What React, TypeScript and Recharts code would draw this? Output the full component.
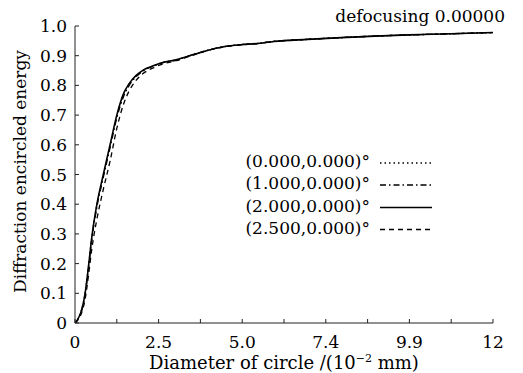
import React from 'react';
import { LineChart, Line, XAxis, YAxis, Legend } from 'recharts';

const X_VALUES = [0, 0.1, 0.2, 0.3, 0.4, 0.5, 0.65, 0.84, 1.04, 1.24, 1.45, 1.6, 1.8, 2.0, 2.3, 2.6, 3.0, 3.4, 3.9, 4.4, 4.9, 5.4, 5.9, 6.9, 7.9, 8.9, 9.9, 10.9, 12.4];
const FIELD_00 = [0, 0.017, 0.047, 0.1, 0.19, 0.29, 0.4, 0.5, 0.6, 0.695, 0.772, 0.803, 0.831, 0.849, 0.865, 0.877, 0.886, 0.9, 0.917, 0.93, 0.937, 0.941, 0.948, 0.955, 0.961, 0.966, 0.97, 0.973, 0.978];
const FIELD_10 = [0, 0.015, 0.043, 0.095, 0.185, 0.283, 0.39, 0.49, 0.59, 0.69, 0.765, 0.798, 0.828, 0.847, 0.864, 0.876, 0.885, 0.9, 0.917, 0.93, 0.937, 0.941, 0.948, 0.955, 0.961, 0.966, 0.97, 0.973, 0.978];
const FIELD_20 = [0, 0.016, 0.045, 0.1, 0.19, 0.29, 0.4, 0.5, 0.6, 0.7, 0.775, 0.805, 0.832, 0.85, 0.865, 0.877, 0.886, 0.9, 0.917, 0.93, 0.937, 0.941, 0.948, 0.955, 0.961, 0.966, 0.97, 0.973, 0.978];
const FIELD_25 = [0, 0.012, 0.035, 0.08, 0.16, 0.25, 0.35, 0.45, 0.545, 0.655, 0.74, 0.78, 0.815, 0.838, 0.858, 0.872, 0.883, 0.898, 0.916, 0.929, 0.936, 0.941, 0.948, 0.955, 0.961, 0.966, 0.97, 0.973, 0.978];

const SERIES_NAMES = ['(0.000,0.000)°', '(1.000,0.000)°', '(2.000,0.000)°', '(2.500,0.000)°'];
const SERIES_KEYS = ['f00', 'f10', 'f20', 'f25'];
const SERIES_DASH = ['1.5 3', '6 3 1.5 3', undefined, '5 4'];
const SERIES_WIDTH = [1.3, 1.3, 1.6, 1.3];

const X_TICKS = [0, 1.24, 2.48, 3.72, 4.96, 6.2, 7.44, 8.68, 9.92, 11.16, 12.4];
const X_TICK_LABELS = ['0', '', '2.5', '', '5.0', '', '7.4', '', '9.9', '', '12'];
const Y_TICKS = [0, 0.1, 0.2, 0.3, 0.4, 0.5, 0.6, 0.7, 0.8, 0.9, 1.0];
const Y_TICK_LABELS = ['0', '0.1', '0.2', '0.3', '0.4', '0.5', '0.6', '0.7', '0.8', '0.9', '1.0'];

const TITLE = 'defocusing 0.00000';
const X_TITLE = 'Diameter of circle /(10';
const Y_TITLE = 'Diffraction encircled energy';

const FONT = 'DejaVu Serif';

const data = X_VALUES.map((x, i) => ({
  x,
  f00: FIELD_00[i],
  f10: FIELD_10[i],
  f20: FIELD_20[i],
  f25: FIELD_25[i],
}));

const XLabel = (props: any) => {
  const vb = props.viewBox || { x: 75, y: 323, width: 418, height: 50 };
  const cx = vb.x + vb.width / 2;
  return (
    <text x={cx} y={vb.y + 46} textAnchor="middle" fontFamily={FONT} fontSize={18} fill="#000">
      {X_TITLE}
      <tspan dy={-7} fontSize={11}>−2</tspan>
      <tspan dy={7}> mm)</tspan>
    </text>
  );
};

const YLabel = (props: any) => {
  const vb = props.viewBox || { x: 0, y: 26, width: 75, height: 297 };
  const cx = vb.x + 20;
  const cy = vb.y + vb.height / 2 - 3;
  return (
    <text
      x={cx}
      y={cy}
      transform={`rotate(-90 ${cx} ${cy})`}
      textAnchor="middle"
      dominantBaseline="central"
      fontFamily={FONT}
      fontSize={17}
      fill="#000"
    >
      {Y_TITLE}
    </text>
  );
};

const LegendContent = () => {
  const rowY = [16, 38, 60.5, 82.5];
  return (
    <svg width={523} height={373} style={{ display: 'block' }}>
      <text x={505} y={22} textAnchor="end" fontFamily={FONT} fontSize={17} fill="#000">
        {TITLE}
      </text>
      <g transform="translate(200,145)">
        {SERIES_NAMES.map((name, i) => (
          <g key={name}>
            <text
              x={170}
              y={rowY[i]}
              textAnchor="end"
              dominantBaseline="central"
              fontFamily={FONT}
              fontSize={17}
              fill="#000"
            >
              {name}
            </text>
            <line
              x1={180}
              x2={232}
              y1={rowY[i] + 2}
              y2={rowY[i] + 2}
              stroke="#000"
              strokeWidth={SERIES_WIDTH[i]}
              strokeDasharray={SERIES_DASH[i]}
            />
          </g>
        ))}
      </g>
    </svg>
  );
};

export default function App() {
  return (
    <div style={{ position: 'absolute', left: 0, top: 0, background: '#fff' }}>
      <LineChart width={523} height={373} data={data} margin={{ top: 26, right: 30, left: 0, bottom: 0 }}>
        <XAxis
          dataKey="x"
          type="number"
          domain={[0, 12.4]}
          ticks={X_TICKS}
          interval={0}
          tickFormatter={(v: number) => {
            const idx = X_TICKS.findIndex((t) => Math.abs(t - v) < 1e-6);
            return idx >= 0 ? X_TICK_LABELS[idx] : '';
          }}
          tickSize={-4}
          tickMargin={17}
          height={50}
          stroke="#222"
          tick={{ fontFamily: FONT, fontSize: 17, fill: '#000' }}
          axisLine={{ stroke: '#222', strokeWidth: 1 }}
          tickLine={{ stroke: '#222' }}
          label={<XLabel />}
          allowDataOverflow
        />
        <YAxis
          type="number"
          domain={[0, 1]}
          ticks={Y_TICKS}
          interval={0}
          tickFormatter={(v: number) => {
            const idx = Y_TICKS.findIndex((t) => Math.abs(t - v) < 1e-6);
            return idx >= 0 ? Y_TICK_LABELS[idx] : '';
          }}
          tickSize={-4}
          tickMargin={12}
          width={75}
          stroke="#222"
          tick={{ fontFamily: FONT, fontSize: 17, fill: '#000' }}
          axisLine={{ stroke: '#222', strokeWidth: 1 }}
          tickLine={{ stroke: '#222' }}
          label={<YLabel />}
          allowDataOverflow
        />
        <Legend
          layout="horizontal"
          verticalAlign="middle"
          align="center"
          content={<LegendContent />}
          wrapperStyle={{ position: 'absolute', left: 0, top: 0, width: 523, height: 373, pointerEvents: 'none' }}
        />
        {SERIES_KEYS.map((k, i) => (
          <Line
            key={k}
            dataKey={k}
            name={SERIES_NAMES[i]}
            type="monotone"
            stroke="#000"
            strokeWidth={SERIES_WIDTH[i]}
            strokeDasharray={SERIES_DASH[i]}
            dot={false}
            activeDot={false}
            isAnimationActive={false}
          />
        ))}
      </LineChart>
    </div>
  );
}
